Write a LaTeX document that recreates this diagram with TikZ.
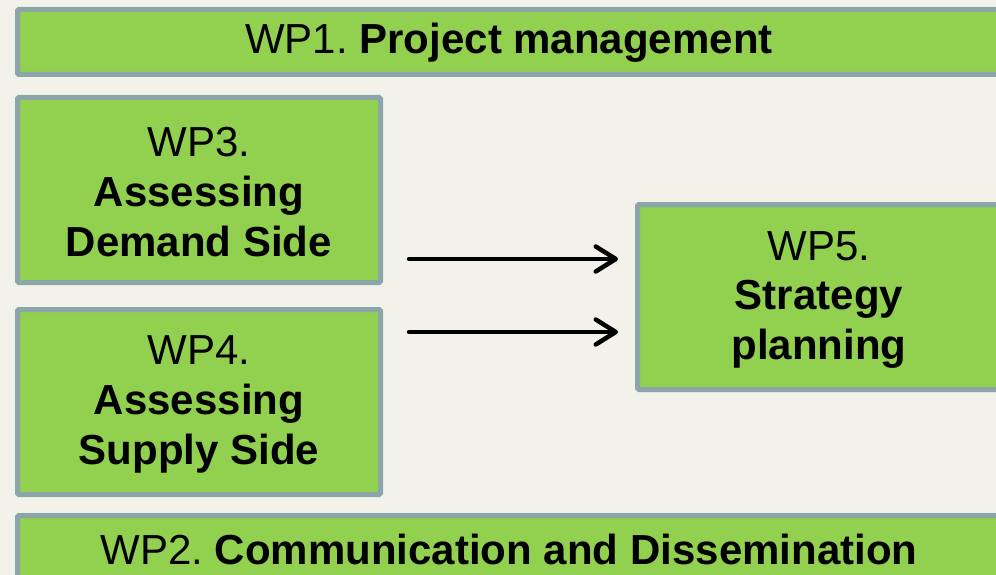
\documentclass[tikz,border=0pt]{standalone}
\usepackage{fontspec}
\setmainfont{Liberation Sans}
\frenchspacing
\usetikzlibrary{arrows.meta}
\definecolor{wpfill}{HTML}{92D050}
\definecolor{wpborder}{HTML}{8CA5A8}
\definecolor{bgc}{HTML}{F2F1EA}
\tikzset{
  wpbox/.style={rectangle, draw=wpborder, fill=wpfill, line width=5pt, rounded corners=1.5pt,
    inner sep=0pt},
  wptext/.style={inner sep=0pt, align=center, text=black,
    font=\fontsize{42}{50}\selectfont},
  flow/.style={line width=4.5pt, line cap=round, -{Straight Barb[length=20pt,width=25pt,round]}}
}
\begin{document}
\begin{tikzpicture}[x=1pt,y=-1pt]
\path[fill=bgc] (0,0) rectangle (996,575);
\useasboundingbox (0,0) rectangle (996,575);
\node[wpbox, minimum width=983pt, minimum height=65pt] (wp1) at (509,42) {};
\node[wpbox, minimum width=363pt, minimum height=185pt] (wp3) at (199,190) {};
\node[wpbox, minimum width=363pt, minimum height=185pt] (wp4) at (199,402) {};
\node[wpbox, minimum width=363pt, minimum height=185pt] (wp5) at (819,297) {};
\node[wpbox, minimum width=983pt, minimum height=65pt] (wp2) at (509,548) {};
\node[wptext] (wp1t) at ([yshift=-1pt]wp1.center) {WP1. \textbf{Project management}};
\node[wptext] (wp3t) at ([yshift=-2pt]wp3.center) {WP3.\\\textbf{Assessing}\\\textbf{Demand Side}};
\node[wptext] (wp4t) at ([yshift=-2pt]wp4.center) {WP4.\\\textbf{Assessing}\\\textbf{Supply Side}};
\node[wptext] (wp5t) at ([yshift=-3pt]wp5.center) {WP5.\\\textbf{Strategy}\\\textbf{planning}};
\node[wptext] (wp2t) at ([yshift=-1pt]wp2.center) {WP2. \textbf{Communication and Dissemination}};
\coordinate (a1s) at (409,259);
\coordinate (a1e) at (618,259);
\coordinate (a2s) at (409,332);
\coordinate (a2e) at (618,332);
\draw[flow] (a1s) -- (a1e);
\draw[flow] (a2s) -- (a2e);
\end{tikzpicture}
\end{document}
